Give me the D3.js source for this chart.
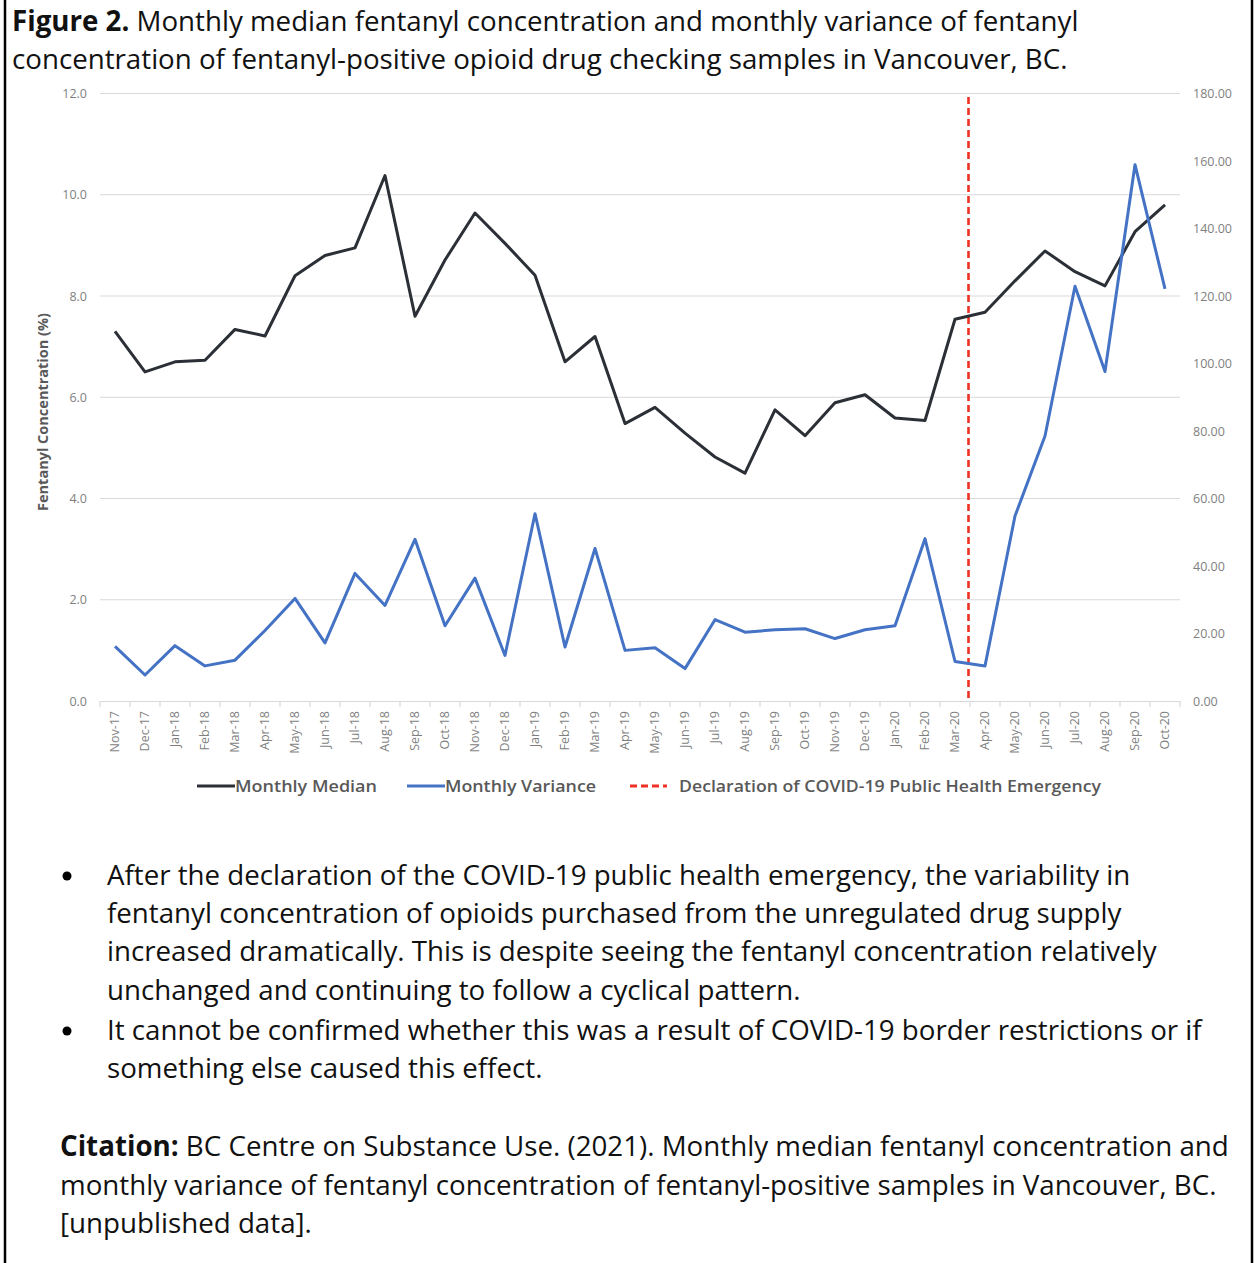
<!DOCTYPE html>
<html>
<head>
<meta charset="utf-8">
<script src="https://cdn.jsdelivr.net/npm/d3@7"></script>
<style>
  html, body { margin: 0; padding: 0; background: #fff; }
  svg { display: block; }
  text { font-family: "Open Sans", "Noto Sans", sans-serif; }
</style>
</head>
<body>
<script>
// ---------------- DATA ----------------
const months = ["Nov-17","Dec-17","Jan-18","Feb-18","Mar-18","Apr-18","May-18","Jun-18","Jul-18","Aug-18","Sep-18","Oct-18","Nov-18","Dec-18","Jan-19","Feb-19","Mar-19","Apr-19","May-19","Jun-19","Jul-19","Aug-19","Sep-19","Oct-19","Nov-19","Dec-19","Jan-20","Feb-20","Mar-20","Apr-20","May-20","Jun-20","Jul-20","Aug-20","Sep-20","Oct-20"];
const monthlyMedian = [7.30,6.50,6.70,6.73,7.34,7.21,8.40,8.80,8.95,10.38,7.60,8.71,9.64,9.04,8.41,6.70,7.20,5.48,5.80,5.29,4.82,4.50,5.75,5.24,5.89,6.05,5.59,5.54,7.54,7.68,8.30,8.89,8.48,8.20,9.27,9.80];
const monthlyVariance = [16.2,7.7,16.4,10.4,12.1,20.9,30.4,17.2,37.8,28.3,47.9,22.3,36.4,13.5,55.5,16.0,45.2,15.0,15.8,9.6,24.1,20.4,21.1,21.4,18.5,21.1,22.3,48.1,11.7,10.4,54.8,78.5,122.9,97.6,158.9,122.1];
const leftTicks = [0,2,4,6,8,10,12];
const rightTicks = [0,20,40,60,80,100,120,140,160,180];
const eventMonth = "Mar-20";
const eventLabel = "Declaration of COVID-19 Public Health Emergency";
const seriesNames = ["Monthly Median","Monthly Variance"];

const titleLines = [
  {bold:"Figure 2.", rest:" Monthly median fentanyl concentration and monthly variance of fentanyl"},
  {bold:"", rest:"concentration of fentanyl-positive opioid drug checking samples in Vancouver, BC."}
];
const bulletLines = [
  ["After the declaration of the COVID-19 public health emergency, the variability in",
   "fentanyl concentration of opioids purchased from the unregulated drug supply",
   "increased dramatically. This is despite seeing the fentanyl concentration relatively",
   "unchanged and continuing to follow a cyclical pattern."],
  ["It cannot be confirmed whether this was a result of COVID-19 border restrictions or if",
   "something else caused this effect."]
];
const citationLines = [
  {bold:"Citation:", rest:" BC Centre on Substance Use. (2021). Monthly median fentanyl concentration and"},
  {bold:"", rest:"monthly variance of fentanyl concentration of fentanyl-positive samples in Vancouver, BC."},
  {bold:"", rest:"[unpublished data]."}
];

// ---------------- LAYOUT ----------------
const W = 1257, H = 1263;
const svg = d3.select("body").append("svg").attr("width", W).attr("height", H);
svg.append("rect").attr("width", W).attr("height", H).attr("fill", "#fff");

// side borders
svg.append("line").attr("x1",5).attr("x2",5).attr("y1",0).attr("y2",H).attr("stroke","#000").attr("stroke-width",2.5);
svg.append("line").attr("x1",1252).attr("x2",1252).attr("y1",0).attr("y2",H).attr("stroke","#000").attr("stroke-width",2.5);

const plot = {left:100, right:1180, top:93.5, bottom:701};

const x = d3.scaleBand().domain(months).range([plot.left, plot.right]);
const yL = d3.scaleLinear().domain([0,12]).range([plot.bottom, plot.top]);
const yR = d3.scaleLinear().domain([0,180]).range([plot.bottom, plot.top]);
const cx = m => x(m) + x.bandwidth()/2;

const tickFont = "12.5px";

// gridlines
svg.append("g").selectAll("line").data(leftTicks.filter(d=>d>0)).join("line")
  .attr("x1", plot.left).attr("x2", plot.right)
  .attr("y1", d=>yL(d)).attr("y2", d=>yL(d))
  .attr("stroke", "#d9d9d9").attr("stroke-width", 1.2);

// left axis
const gL = svg.append("g").attr("transform", `translate(${plot.left},0)`)
  .call(d3.axisLeft(yL).tickValues(leftTicks).tickFormat(d3.format(".1f")).tickSize(0).tickPadding(13));
gL.select(".domain").remove();
gL.selectAll("text").attr("fill","#7f7f7f").style("font-size",tickFont).style("font-family","'Open Sans', sans-serif");

// right axis
const gR = svg.append("g").attr("transform", `translate(${plot.right},0)`)
  .call(d3.axisRight(yR).tickValues(rightTicks).tickFormat(d3.format(".2f")).tickSize(0).tickPadding(13));
gR.select(".domain").remove();
gR.selectAll("text").attr("fill","#7f7f7f").style("font-size",tickFont).style("font-family","'Open Sans', sans-serif");

// x axis
const gX = svg.append("g").attr("transform", `translate(0,${plot.bottom})`)
  .call(d3.axisBottom(x).tickSize(0).tickPadding(0));
gX.select(".domain").attr("stroke","#d9d9d9").attr("stroke-width",1.2);
gX.selectAll(".tick text")
  .attr("fill","#7f7f7f").style("font-size",tickFont).style("font-family","'Open Sans', sans-serif")
  .attr("transform","rotate(-90)")
  .attr("text-anchor","end").attr("dy","0.35em").attr("x",-10).attr("y",0);
// band boundary ticks
svg.append("g").selectAll("line").data(months.concat(["__end"])).join("line")
  .attr("x1", (d,i)=> plot.left + i*x.bandwidth()).attr("x2", (d,i)=> plot.left + i*x.bandwidth())
  .attr("y1", plot.bottom).attr("y2", plot.bottom+6)
  .attr("stroke","#d9d9d9").attr("stroke-width",1.2);

// y axis title
svg.append("text").attr("transform", `translate(43,412) rotate(-90)`)
  .attr("text-anchor","middle").attr("dy","0.35em").attr("fill","#595959")
  .style("font-size","14.5px").style("font-weight","700")
  .text("Fentanyl Concentration (%)");

// event line
const evX = cx(eventMonth) + 0.45*x.bandwidth();
svg.append("line").attr("x1",evX).attr("x2",evX).attr("y1",97).attr("y2",plot.bottom)
  .attr("stroke","#ee3124").attr("stroke-width",2.6).attr("stroke-dasharray","7,4");

// lines
const lineL = d3.line().x((d,i)=>cx(months[i])).y(d=>yL(d));
const lineR = d3.line().x((d,i)=>cx(months[i])).y(d=>yR(d));
svg.append("path").datum(monthlyMedian).attr("d", lineL)
  .attr("fill","none").attr("stroke","#2b2f36").attr("stroke-width",3).attr("stroke-linejoin","round");
svg.append("path").datum(monthlyVariance).attr("d", lineR)
  .attr("fill","none").attr("stroke","#4472c4").attr("stroke-width",3).attr("stroke-linejoin","round");

// legend
const legY = 786;
const leg = svg.append("g").style("font-size","16.5px").style("font-weight","600").attr("fill","#595959");
const legendItems = [
  {x1:197, x2:235, tx:235, color:"#2b2f36", dash:null, label:seriesNames[0], tw:142},
  {x1:407, x2:445, tx:445, color:"#4472c4", dash:null, label:seriesNames[1], tw:151},
  {x1:630, x2:667, tx:679, color:"#ee3124", dash:"7,4", label:eventLabel, tw:422}
];
legendItems.forEach(it=>{
  leg.append("line").attr("x1",it.x1).attr("x2",it.x2).attr("y1",legY).attr("y2",legY)
    .attr("stroke",it.color).attr("stroke-width",3).attr("stroke-dasharray",it.dash);
  leg.append("text").attr("x",it.tx).attr("y",legY).attr("dy","0.35em")
    .attr("textLength", it.tw).attr("lengthAdjust","spacingAndGlyphs")
    .text(it.label);
});

// text blocks with fitted font size
function textBlock(lines, x0, baselines, refIndex, refWidth, baseSize) {
  const els = lines.map((ln,i)=>{
    const t = svg.append("text").attr("x",x0).attr("y",baselines[i]).attr("fill","#111")
      .style("font-size", baseSize+"px");
    if (ln.bold) t.append("tspan").style("font-weight","700").text(ln.bold);
    t.append("tspan").text(ln.rest);
    return t;
  });
  const w = els[refIndex].node().getComputedTextLength();
  const fs = baseSize * refWidth / w;
  els.forEach(t=>t.style("font-size", fs+"px"));
}

textBlock(titleLines, 12, [31, 69], 1, 1056, 26);

const bulletTexts = [];
bulletLines.forEach(group => group.forEach(s => bulletTexts.push({bold:"", rest:s})));
const bulletBaselines = [885, 923, 961, 1000, 1040, 1078];
textBlock(bulletTexts, 107, bulletBaselines, 4, 1095, 26);
[885, 1040].forEach(b=>{
  svg.append("circle").attr("cx",67).attr("cy",b-9).attr("r",4.5).attr("fill","#000");
});

textBlock(citationLines, 60, [1156, 1195, 1233], 1, 1157, 26);
</script>
</body>
</html>
